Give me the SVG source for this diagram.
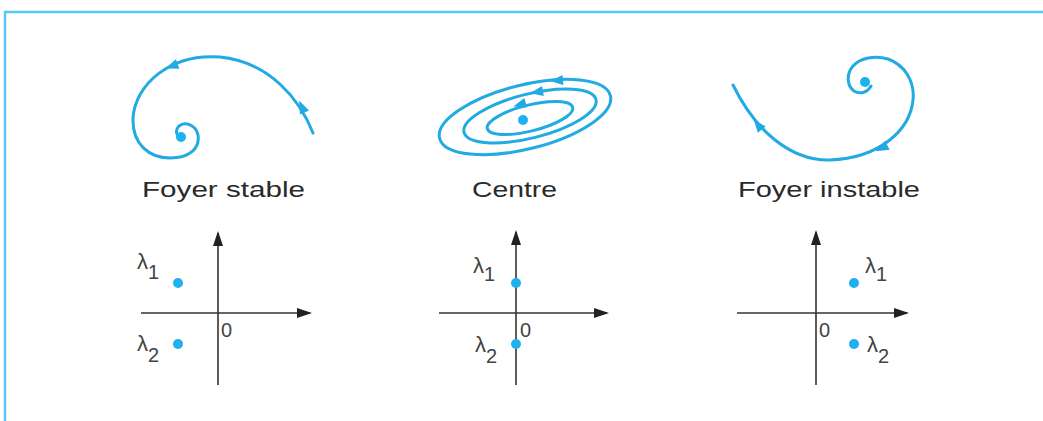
<svg xmlns="http://www.w3.org/2000/svg" width="1043" height="421" viewBox="0 0 1043 421">
<style>
.traj{fill:none;stroke:#22aae2;stroke-width:3;stroke-linecap:round}
.ah{fill:#22aae2}
.dot{fill:#1fb0ef}
.axis{stroke:#333;stroke-width:1.6;fill:none}
.title{font-family:"Liberation Sans",Arial,sans-serif;font-size:22px;fill:#2a2a2a}
.lab{font-family:"Liberation Sans",Arial,sans-serif;font-size:20px;fill:#444}
.lam{font-size:22px}
.frame{stroke:#55c8f5;stroke-width:2.5;fill:none}
</style>
<defs>
<path id="tri" d="M7,0 L-6,-5 L-6,5 Z"/>
<marker id="axarr" markerWidth="15" markerHeight="10" refX="13" refY="5" orient="auto" markerUnits="userSpaceOnUse">
<path d="M0,0 L15,5 L0,10 Z" fill="#222"/>
</marker>
</defs>
<path class="frame" d="M5,421 V12 H1043"/>

<g id="foyer-stable">
<path class="traj" d="M313,133 C300,100 270,62 220,57 C170,53 135,85 133,118 C132,145 150,158 170,158 C190,158 200,148 198,135 C196,125 185,121 179,126 C175,130 176,135 180,137"/>
<use href="#tri" class="ah" transform="translate(302,107) rotate(-114)"/>
<use href="#tri" class="ah" transform="translate(172,66) rotate(160)"/>
<circle class="dot" cx="181" cy="137" r="5"/>
<text class="title" x="223.5" y="197" text-anchor="middle" textLength="163" lengthAdjust="spacingAndGlyphs">Foyer stable</text>
</g>

<g id="centre">
<ellipse class="traj" cx="525" cy="117" rx="88" ry="32" transform="rotate(-14 525 117)"/>
<ellipse class="traj" cx="530" cy="116" rx="68" ry="22" transform="rotate(-14 530 116)"/>
<ellipse class="traj" cx="530" cy="118" rx="44" ry="13" transform="rotate(-14 530 118)"/>
<use href="#tri" class="ah" transform="translate(557,80.5) rotate(176)"/>
<use href="#tri" class="ah" transform="translate(537,92) rotate(170)"/>
<use href="#tri" class="ah" transform="translate(520,104.5) rotate(163)"/>
<circle class="dot" cx="523" cy="120" r="5"/>
<text class="title" x="514.5" y="197" text-anchor="middle" textLength="85" lengthAdjust="spacingAndGlyphs">Centre</text>
</g>

<g id="foyer-instable">
<path class="traj" d="M871,86 C868,92 860,95 854,91 C847,86 846,74 853,66 C860,58 875,55 888,59 C905,65 915,82 913,100 C910,130 880,158 830,160 C790,161 755,130 733,85"/>
<use href="#tri" class="ah" transform="translate(882,148) rotate(153)"/>
<use href="#tri" class="ah" transform="translate(758,125) rotate(-129)"/>
<circle class="dot" cx="865" cy="82" r="5"/>
<text class="title" x="829" y="197" text-anchor="middle" textLength="182" lengthAdjust="spacingAndGlyphs">Foyer instable</text>
</g>

<g id="plan-stable">
<line class="axis" x1="218" y1="385" x2="218" y2="233" marker-end="url(#axarr)"/>
<line class="axis" x1="141" y1="313" x2="310" y2="313" marker-end="url(#axarr)"/>
<circle class="dot" cx="178" cy="283" r="5"/>
<circle class="dot" cx="178" cy="344" r="5"/>
<text class="lab" x="137" y="269"><tspan class="lam">λ</tspan><tspan dy="10">1</tspan></text>
<text class="lab" x="137" y="351"><tspan class="lam">λ</tspan><tspan dy="11">2</tspan></text>
<text class="lab" x="221" y="337">0</text>
</g>

<g id="plan-centre">
<line class="axis" x1="516" y1="385" x2="516" y2="232" marker-end="url(#axarr)"/>
<line class="axis" x1="439" y1="313" x2="607" y2="313" marker-end="url(#axarr)"/>
<circle class="dot" cx="516" cy="283" r="5"/>
<circle class="dot" cx="516" cy="344" r="5"/>
<text class="lab" x="473" y="273"><tspan class="lam">λ</tspan><tspan dy="8">1</tspan></text>
<text class="lab" x="475" y="352"><tspan class="lam">λ</tspan><tspan dy="11">2</tspan></text>
<text class="lab" x="520" y="337">0</text>
</g>

<g id="plan-instable">
<line class="axis" x1="816" y1="385" x2="816" y2="232" marker-end="url(#axarr)"/>
<line class="axis" x1="737" y1="313" x2="907" y2="313" marker-end="url(#axarr)"/>
<circle class="dot" cx="854" cy="283" r="5"/>
<circle class="dot" cx="854" cy="344" r="5"/>
<text class="lab" x="865" y="273"><tspan class="lam">λ</tspan><tspan dy="8">1</tspan></text>
<text class="lab" x="867" y="352"><tspan class="lam">λ</tspan><tspan dy="11">2</tspan></text>
<text class="lab" x="819" y="337">0</text>
</g>
</svg>
